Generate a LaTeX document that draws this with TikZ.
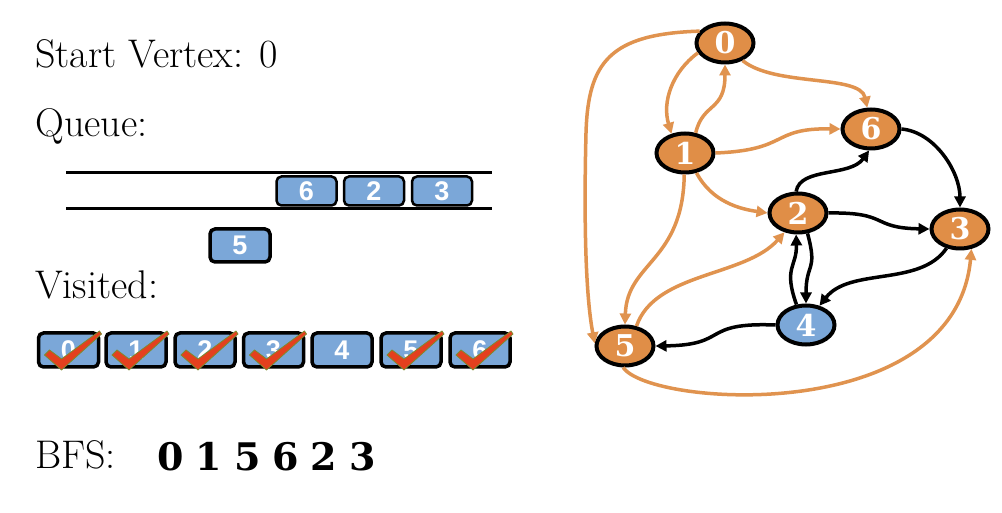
\documentclass[tikz,border=0pt]{standalone}
\usepackage{fontspec}
\usetikzlibrary{shapes.geometric,arrows.meta}
\newfontfamily\dvserif{DejaVu Serif}
\newfontfamily\lsans{Liberation Sans}
\definecolor{vorange}{HTML}{E08E47}
\definecolor{eorange}{HTML}{E0934F}
\definecolor{vblue}{HTML}{7BA7D8}
\definecolor{checkred}{HTML}{E4401E}
\definecolor{checkedge}{HTML}{7D8B2E}
\begin{document}
\begin{tikzpicture}[x=1pt,y=1pt,
  vert/.style={ellipse, draw=black, line width=4pt, fill=vorange, minimum width=57pt, minimum height=39pt, inner sep=0pt, text=white, font=\dvserif\bfseries\fontsize{30}{30}\selectfont},
  qbox/.style={draw=black, line width=2.5pt, rounded corners=5pt, fill=vblue, minimum width=60pt, minimum height=29pt, inner sep=0pt, text=white, font=\lsans\bfseries\fontsize{27}{27}\selectfont},
  vbox/.style={qbox, line width=3.5pt, minimum width=60pt, minimum height=34pt},
  oedge/.style={draw=eorange, line width=3.5pt, -{Triangle[length=11pt,width=11pt]}},
  bedge/.style={draw=black, line width=3.5pt, -{Triangle[length=11pt,width=11pt]}},
  lbl/.style={anchor=base west, inner sep=0pt, font=\fontsize{40}{44}\selectfont},
  checkmk/.style={fill=checkred, draw=checkedge, line width=0.8pt, line join=round}
]
\fill[white] (0,0) rectangle (1002,512);
\useasboundingbox (0,0) rectangle (1002,512);

% texts
\node[lbl] (tstart) at (35,444) {Start Vertex: 0};
\node[lbl] (tqueue) at (35,375) {Queue:};
\node[lbl] (tvisit) at (35,213) {Visited:};
\node[lbl] (tbfs) at (35,44) {BFS:};
\node[anchor=base west, inner sep=0pt, font=\dvserif\bfseries\fontsize{38}{40}\selectfont] (tord) at (157,42) {0\hspace{12pt}1\hspace{12pt}5\hspace{12pt}6\hspace{12pt}2\hspace{12pt}3};

% queue
\coordinate (qtl) at (66,339);
\coordinate (qtr) at (492,339);
\coordinate (qbl) at (66,303);
\coordinate (qbr) at (492,303);
\draw[line width=3pt] (qtl) -- (qtr);
\draw[line width=3pt] (qbl) -- (qbr);
\node[qbox] (q6) at (306.5,321) {6};
\node[qbox] (q2) at (374,321) {2};
\node[qbox] (q3) at (442,321) {3};
\node[vbox, line width=3.5pt, minimum height=33pt] (q5) at (240,266.5) {5};

% visited
\node[vbox] (v0) at (68.5,162) {0};
\node[vbox] (v1) at (136,162) {1};
\node[vbox] (v2) at (205,162) {2};
\node[vbox] (v3) at (273.5,162) {3};
\node[vbox] (v4) at (342,162) {4};
\node[vbox] (v5) at (411,162) {5};
\node[vbox] (v6) at (480,162) {6};
\foreach \i in {0,1,2,3,5,6}{
  \begin{scope}[shift={(v\i.center)}]
    \path[checkmk] (-24,-5) -- (-19,0) -- (-7,-9) -- (31,19) -- (33,16) -- (-7,-20) -- cycle;
  \end{scope}
}

% graph
\node[vert] (n0) at (725,469) {0};
\node[vert] (n1) at (685,359) {1};
\node[vert] (n6) at (871,383) {6};
\node[vert] (n2) at (798,299) {2};
\node[vert] (n3) at (960,283) {3};
\node[vert, fill=vblue] (n4) at (806,187) {4};
\node[vert] (n5) at (625,166) {5};

% orange edges
\draw[oedge] (n0.200) .. controls (672,440) and (662,410) .. (n1.125);
\draw[oedge] (n1.62) .. controls (703,410) and (725,400) .. (n0.270);
\draw[oedge] (n0.315) .. controls (775,425) and (860,438) .. (n6.100);
\draw[oedge] (n1.east) .. controls (790,362) and (770,384) .. (n6.west);
\draw[oedge] (n1.300) .. controls (712,310) and (740,303) .. (n2.west);
\draw[oedge] (n1.268) .. controls (683,250) and (627,250) .. (n5.north);
\draw[oedge] (n0.155) .. controls (610,478) and (588,450) .. (586,379) .. controls (584,300) and (585,220) .. (n5.175);
\draw[oedge] (n5.60) .. controls (655,240) and (745,235) .. (n2.235);
\draw[oedge] (n5.265) .. controls (650,105) and (955,85) .. (n3.300);

% black edges
\draw[bedge] (n6.east) .. controls (935,380) and (960,340) .. (n3.north);
\draw[bedge] (n2.95) .. controls (800,345) and (850,335) .. (n6.265);
\draw[bedge] (n2.east) .. controls (890,300) and (870,284) .. (n3.west);
\draw[bedge] (n4.115) .. controls (783,245) and (797,245) .. (n2.265);
\draw[bedge] (n2.295) .. controls (818,240) and (806,250) .. (n4.north);
\draw[bedge] (n3.235) .. controls (920,225) and (850,245) .. (n4.55);
\draw[bedge] (n4.west) .. controls (700,190) and (730,167) .. (n5.east);
\end{tikzpicture}
\end{document}
